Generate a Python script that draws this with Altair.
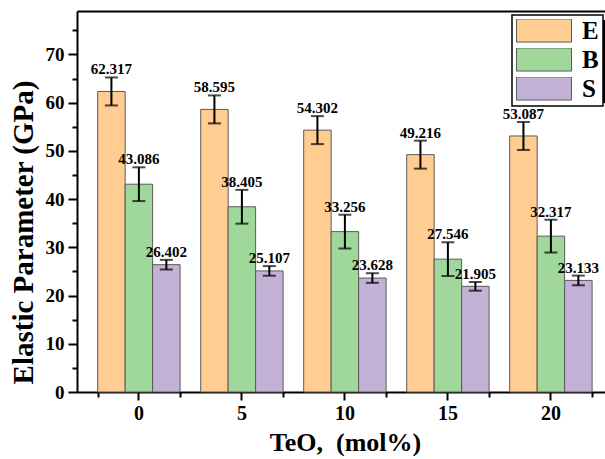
import altair as alt
import pandas as pd

# ---- data ----
teo = ["0", "5", "10", "15", "20"]
params = ["E", "B", "S"]
E_vals = [62.317, 58.595, 54.302, 49.216, 53.087]
B_vals = [43.086, 38.405, 33.256, 27.546, 32.317]
S_vals = [26.402, 25.107, 23.628, 21.905, 23.133]
E_err = [2.9, 2.9, 2.9, 2.9, 2.9]
B_err = [3.5, 3.5, 3.5, 3.5, 3.4]
S_err = [1.0, 1.0, 1.0, 0.9, 1.0]
y_major = [0, 10, 20, 30, 40, 50, 60, 70]
y_minor = [5, 15, 25, 35, 45, 55, 65, 75]
colors = ["#FFCC91", "#A0D89B", "#C4B2D6"]

rows = []
for p, vals, errs in (("E", E_vals, E_err), ("B", B_vals, B_err), ("S", S_vals, S_err)):
    for t, v, e in zip(teo, vals, errs):
        rows.append({"teo": t, "param": p, "value": v, "lo": v - e, "hi": v + e,
                     "label": f"{v:.3f}"})
df = pd.DataFrame(rows)

FONT = "Liberation Serif"
W, H = 528, 381

xscale = alt.Scale(domain=teo, paddingInner=0.2, paddingOuter=0.163, align=0.616)
yscale = alt.Scale(domain=[0, 79], nice=False, zero=True)
offs = alt.XOffset("param:N", sort=params, scale=alt.Scale(domain=params))

base = alt.Chart(df)

bars = base.mark_bar(stroke="#5a5a5a", strokeWidth=1).encode(
    x=alt.X("teo:N", sort=teo, scale=xscale,
            axis=alt.Axis(title="TeO,\u00a0\u00a0(mol%)", orient="bottom", labelAngle=0,
                          labelFont=FONT, labelFontWeight="bold", labelFontSize=20,
                          labelColor="black", labelPadding=3,
                          tickSize=8, tickWidth=2, tickColor="black",
                          domainColor="black", domainWidth=2,
                          titleFont=FONT, titleFontWeight="bold", titleFontSize=26,
                          titleColor="black", titlePadding=6, titleX=268, grid=False)),
    xOffset=offs,
    y=alt.Y("value:Q", scale=yscale,
            axis=alt.Axis(title="Elastic Parameter (GPa)", orient="left", values=y_major,
                          labelFont=FONT, labelFontWeight="bold", labelFontSize=19,
                          labelColor="black", labelPadding=4,
                          tickSize=9, tickWidth=2, tickColor="black",
                          domainColor="black", domainWidth=2,
                          titleFont=FONT, titleFontWeight="bold", titleFontSize=29,
                          titleColor="black", titlePadding=7, titleY=221, grid=False)),
    color=alt.Color("param:N", sort=params,
                    scale=alt.Scale(domain=params, range=colors),
                    legend=alt.Legend(title=None, orient="none", legendX=435, legendY=4,
                                      symbolType="M-1,-0.42H1V0.42H-1Z", symbolSize=3025,
                                      clipHeight=23, rowPadding=3, labelOffset=10,
                                      labelFont=FONT, labelFontWeight="bold",
                                      labelFontSize=25, labelColor="black",
                                      symbolStrokeColor="#5a5a5a", symbolStrokeWidth=1,
                                      symbolOpacity=1,
                                      padding=4, strokeColor="black", fillColor="white")),
)

rules = base.mark_rule(color="black", strokeWidth=2).encode(
    x=alt.X("teo:N", sort=teo, scale=xscale,
            axis=alt.Axis(title=None, orient="bottom", labels=False, domain=False,
                          tickBand="extent", tickSize=5, tickWidth=2, tickColor="black",
                          grid=False)),
    xOffset=offs,
    y=alt.Y("lo:Q", scale=yscale,
            axis=alt.Axis(title=None, orient="left", values=y_minor, labels=False,
                          domain=False, tickSize=5, tickWidth=2, tickColor="black",
                          grid=False)),
    y2="hi:Q",
)

caps_lo = base.mark_tick(color="black", thickness=2, size=13).encode(
    x=alt.X("teo:N", sort=teo, scale=xscale, axis=None),
    xOffset=offs,
    y=alt.Y("lo:Q", scale=yscale, axis=None),
)
caps_hi = base.mark_tick(color="black", thickness=2, size=13).encode(
    x=alt.X("teo:N", sort=teo, scale=xscale, axis=None),
    xOffset=offs,
    y=alt.Y("hi:Q", scale=yscale, axis=None),
)

labels = base.mark_text(font=FONT, fontWeight="bold", fontSize=15, color="black",
                        baseline="alphabetic", dy=-3).encode(
    x=alt.X("teo:N", sort=teo, scale=xscale,
            axis=alt.Axis(title=None, orient="top", labels=False, ticks=False,
                          domain=True, domainColor="black", domainWidth=2, grid=False)),
    xOffset=offs,
    y=alt.Y("hi:Q", scale=yscale, axis=None),
    text="label:N",
)

# legend drop shadow (decoration)
shadow = alt.Chart(pd.DataFrame({"k": [0]})).mark_rect(color="black").encode(
    x=alt.value(441), x2=alt.value(530), y=alt.value(9), y2=alt.value(92)
)

chart = alt.layer(shadow, bars, rules, caps_lo, caps_hi, labels).resolve_axis(
    x="independent", y="independent"
).properties(
    width=W, height=H,
    padding={"left": 77, "top": 11, "right": 0, "bottom": 67},
    autosize=alt.AutoSizeParams(type="none"),
    background="white",
).configure_view(stroke=None).configure_legend(strokeWidth=1.5)

chart.save("out.html", embed_options={"renderer": "svg", "actions": False})
